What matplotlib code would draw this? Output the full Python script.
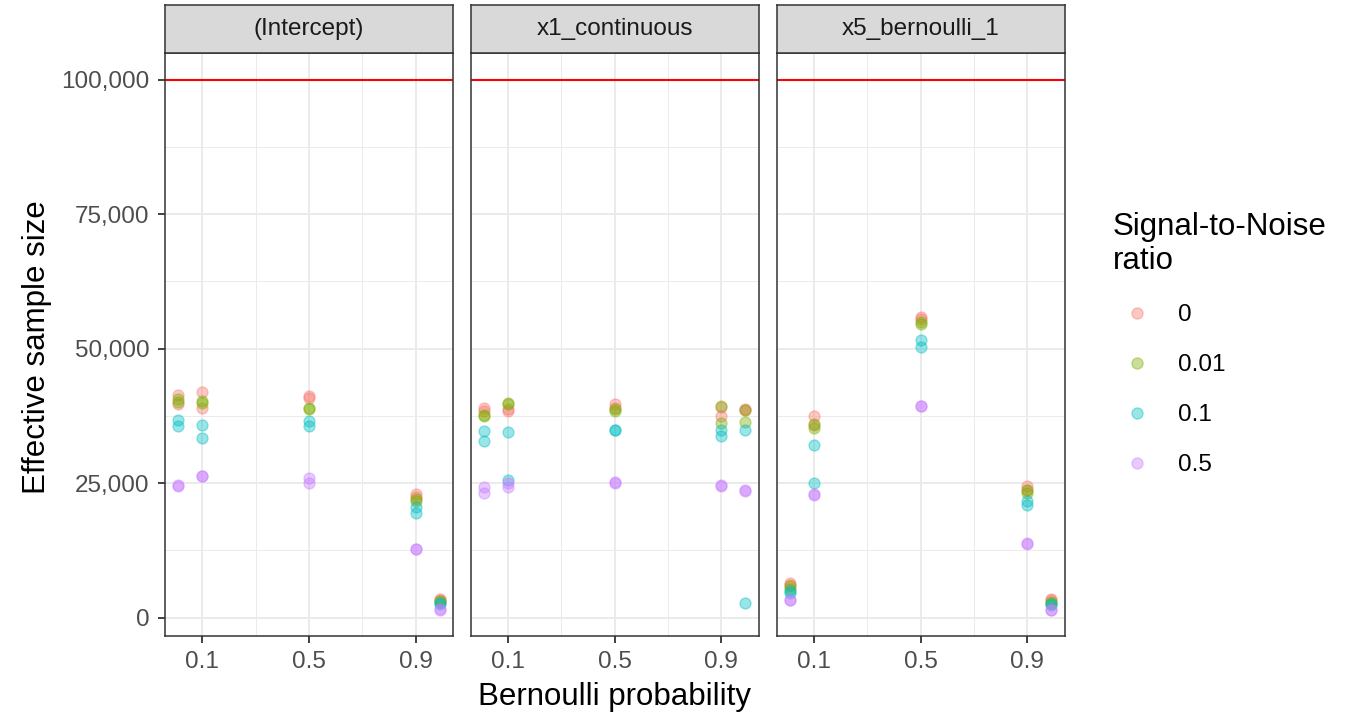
import matplotlib.pyplot as plt
from matplotlib.lines import Line2D
from matplotlib.ticker import FuncFormatter

plt.rcParams['font.family'] = ['Liberation Sans', 'DejaVu Sans']

# data: two replicates at each Bernoulli probability
probs = [0.01, 0.01, 0.1, 0.1, 0.5, 0.5, 0.9, 0.9, 0.99, 0.99]
snr_levels = ['0', '0.01', '0.1', '0.5']
snr_colors = ['#F8766D', '#7CAE00', '#00BFC4', '#C77CFF']
panel_names = ['(Intercept)', 'x1_continuous', 'x5_bernoulli_1']
target_ess = 100000

intercept_snr0 = [41300, 39700, 42000, 39000, 41200, 40800, 22900, 22500, 3500, 3300]
intercept_snr001 = [40600, 40000, 40200, 39900, 39000, 38800, 22000, 21600, 3000, 2900]
intercept_snr01 = [36800, 35600, 35800, 33400, 36600, 35600, 20600, 19500, 2700, 2500]
intercept_snr05 = [24600, 24500, 26400, 26300, 25900, 25100, 12800, 12700, 1600, 1500]

x1_snr0 = [39000, 38300, 38700, 38400, 39700, 39000, 37500, 39200, 38700, 38500]
x1_snr001 = [37700, 37400, 39800, 39600, 38700, 38300, 39400, 36200, 38600, 36400]
x1_snr01 = [34600, 32900, 34400, 25600, 34900, 34800, 34900, 33800, 34900, 2800]
x1_snr05 = [24200, 23200, 25100, 24200, 25100, 25200, 24500, 24600, 23600, 23700]

x5_snr0 = [6400, 6000, 37500, 35800, 55800, 55500, 24500, 23800, 3500, 3300]
x5_snr001 = [5800, 5400, 35900, 35300, 55000, 54600, 23700, 23200, 2900, 2700]
x5_snr01 = [5000, 4500, 32000, 25100, 51500, 50200, 21600, 21000, 2600, 2400]
x5_snr05 = [3200, 3300, 22900, 22800, 39400, 39300, 13800, 13700, 1500, 1400]

panels = [
    [intercept_snr0, intercept_snr001, intercept_snr01, intercept_snr05],
    [x1_snr0, x1_snr001, x1_snr01, x1_snr05],
    [x5_snr0, x5_snr001, x5_snr01, x5_snr05],
]

W, H = 1358, 714
fig = plt.figure(figsize=(W / 100, H / 100), dpi=100)

lefts = [165, 470.5, 776.5]
pw = 288
top, bottom, strip_top = 53, 636, 5
dark = '#333333'
grid = '#EBEBEB'
small, big = 17.5, 22.5

for i, (left, name, series) in enumerate(zip(lefts, panel_names, panels)):
    ax = fig.add_axes([left / W, 1 - bottom / H, pw / W, (bottom - top) / H])
    ax.set_xlim(-0.039, 1.039)
    ax.set_ylim(-3425, 104925)
    ax.set_xticks([0.1, 0.5, 0.9])
    ax.set_xticks([0.3, 0.7], minor=True)
    ax.set_yticks([0, 25000, 50000, 75000, 100000])
    ax.set_yticks([12500, 37500, 62500, 87500], minor=True)
    ax.grid(which='major', color=grid, linewidth=1.4, zorder=0)
    ax.grid(which='minor', color=grid, linewidth=0.7, zorder=0)
    ax.set_axisbelow(True)
    ax.axhline(target_ess, color='#FF0000', linewidth=1.5, zorder=2)
    for vals, col in zip(series, snr_colors):
        ax.scatter(probs, vals, s=62, color=col, alpha=0.4, linewidths=1.0,
                   edgecolors=col, zorder=3)
    for sp in ax.spines.values():
        sp.set_color(dark)
        sp.set_linewidth(1.1)
    ax.xaxis.set_major_formatter(FuncFormatter(lambda v, p: f'{v:g}'))
    ax.tick_params(which='minor', length=0)
    ax.tick_params(axis='x', which='major', length=5, width=1.3, color=dark,
                   labelsize=small, labelcolor='#4D4D4D', pad=6)
    if i == 0:
        ax.yaxis.set_major_formatter(FuncFormatter(lambda v, p: f'{int(v):,}'))
        ax.tick_params(axis='y', which='major', length=5, width=1.3, color=dark,
                       labelsize=small, labelcolor='#4D4D4D', pad=6)
    else:
        ax.tick_params(axis='y', which='major', length=0, labelleft=False)

    sax = fig.add_axes([left / W, 1 - top / H, pw / W, (top - strip_top) / H])
    sax.set_facecolor('#D9D9D9')
    sax.set_xticks([])
    sax.set_yticks([])
    for sp in sax.spines.values():
        sp.set_color(dark)
        sp.set_linewidth(1.1)
    sax.text(0.5, 0.5, name, ha='center', va='center', fontsize=small,
             color='#1A1A1A', transform=sax.transAxes)

fig.text((165 + 1064.5) / 2 / W, 1 - 697 / H, 'Bernoulli probability',
         ha='center', va='center', fontsize=big)
fig.text(37 / W, 1 - 347 / H, 'Effective sample size', ha='center',
         va='center', rotation=90, fontsize=big)

handles = [Line2D([], [], marker='o', linestyle='', markersize=8,
                  markerfacecolor=c, markeredgecolor=c, alpha=0.4)
           for c in snr_colors]
leg = fig.legend(handles, snr_levels, title='Signal-to-Noise\nratio',
                 loc='upper left', bbox_to_anchor=(1103 / W, 1 - 202 / H),
                 frameon=False, fontsize=small, title_fontsize=big,
                 alignment='left', labelspacing=1.15, handletextpad=0.67,
                 borderaxespad=0)

fig.savefig('out.png', dpi=100)
